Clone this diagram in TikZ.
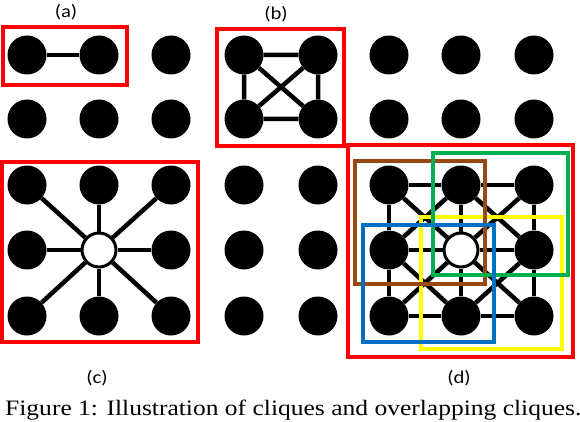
\documentclass[tikz,border=0pt]{standalone}
\usepackage{fontspec}
\setmainfont{Liberation Serif}
\newfontfamily\lblfont{Carlito}
\usepackage{tikz}
\usetikzlibrary{positioning}

\definecolor{cliquebrown}{RGB}{153,72,15}
\definecolor{cliquegreen}{RGB}{0,176,80}
\definecolor{cliqueblue}{RGB}{0,112,192}
\definecolor{cliqueyellow}{RGB}{255,255,0}

\begin{document}
\begin{tikzpicture}[
    x=1pt, y=-1pt,
    dot/.style={circle, fill=black, minimum size=39pt, inner sep=0pt},
    hub/.style={circle, draw=black, fill=white, line width=3pt,
                minimum size=34pt, inner sep=0pt},
    edge/.style={line width=4.5pt, black},
    frame/.style={line width=4pt, draw=#1},
    lbl/.style={font=\lblfont\fontsize{18}{21}\selectfont, inner sep=0pt},
    capt/.style={font=\fontsize{22}{26}\selectfont, inner sep=0pt, anchor=base west}
  ]
    \useasboundingbox (0,0) rectangle (580,422);

    % all vertices, the two centres are hubs
    \foreach \x/\c in {27/1,99/2,171/3,244/4,318/5,389/6,461/7,534/8}{
      \foreach \y/\r in {55/1,119/2,185/3,250/4,316/5}{
        \def\kind{dot}
        \ifnum\r=4 \ifnum\c=2 \def\kind{hub}\fi \ifnum\c=7 \def\kind{hub}\fi \fi
        \node[\kind] (n\r\c) at (\x,\y) {};
      }
    }

    % (a) pair
    \draw[edge] (n11) -- (n12);
    % (b) four-clique
    \draw[edge] (n14) -- (n15) (n24) -- (n25) (n14) -- (n24) (n15) -- (n25)
                (n14) -- (n25) (n15) -- (n24);
    % (c) star
    \foreach \t in {31,32,33,41,43,51,52,53}
      \draw[edge] (n42) -- (n\t);
    % (d) grid with diagonals
    \foreach \r in {3,4,5}
      \draw[edge] (n\r6) -- (n\r7) -- (n\r8);
    \foreach \c in {6,7,8}
      \draw[edge] (n3\c) -- (n4\c) -- (n5\c);
    \foreach \r/\s in {3/4,4/5}
      \foreach \c/\d in {6/7,7/8}
        \draw[edge] (n\r\c) -- (n\s\d) (n\r\d) -- (n\s\c);

    % frames
    \draw[frame=red] (3,27) rectangle (127,85);
    \draw[frame=red] (217,29) rectangle (344,146);
    \draw[frame=red] (2,162) rectangle (198,342);
    \draw[frame=red] (348,145) rectangle (573,357);
    \draw[frame=cliqueyellow] (421,217) rectangle (562,349);
    \draw[frame=cliquebrown] (355,161) rectangle (485,284);
    \draw[frame=cliquegreen] (433,153) rectangle (568,275);
    \draw[frame=cliqueblue] (363,225) rectangle (494,342);

    \node[lbl] (la) at (66,12) {\scalebox{1.15}[1]{(a)}};
    \node[lbl] (lb) at (276,14) {\scalebox{1.15}[1]{(b)}};
    \node[lbl] (lc) at (97,378) {\scalebox{1.15}[1]{(c)}};
    \node[lbl] (ld) at (459,378) {\scalebox{1.15}[1]{(d)}};
    \node[capt] (cap) at (5,415)
      {\scalebox{1.16}[1]{Figure 1: Illustration of cliques and overlapping cliques.}};
\end{tikzpicture}
\end{document}
